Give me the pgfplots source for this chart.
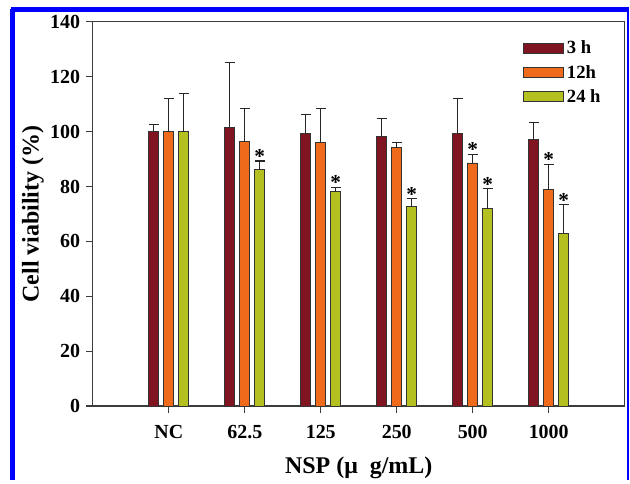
\documentclass[border=0pt]{standalone}
\usepackage{fontspec}
\setmainfont{Liberation Serif}
\usepackage{pgfplots}
\pgfplotsset{compat=1.18}

\definecolor{cRed}{RGB}{128,20,32}
\definecolor{cOrange}{RGB}{240,106,28}
\definecolor{cGreen}{RGB}{180,192,32}
\definecolor{cFrame}{RGB}{0,0,255}
\definecolor{cAxis}{RGB}{60,60,60}

% 1 px of the reference = 0.75pt
\pgfplotsset{
  barstyle/.style={draw=black!80, line width=0.6pt,
    error bars/y dir=plus, error bars/y explicit,
    error bars/error bar style={line width=0.8pt, black!85},
    error bars/error mark options={rotate=90, mark size=3.75pt, line width=0.8pt, black!85}},
  starstyle/.style={draw=none, fill=none, forget plot,
    nodes near coords={\bfseries *},
    every node near coord/.append style={font=\fontsize{16}{16}\selectfont, anchor=south, yshift=-5.5pt}},
}

\begin{document}
\begin{tikzpicture}
\begin{axis}[
    ybar, bar width=7.5pt,
    scale only axis,
    width=399.75pt, height=288.75pt,
    xmin=-1, xmax=6,
    ymin=0, ymax=140,
    ytick={0,20,...,140},
    xtick={0,1,2,3,4,5},
    xticklabels={NC,62.5,125,250,500,1000},
    tick align=outside,
    tick pos=left,
    major tick length=5pt,
    axis line style={cAxis, line width=0.9pt},
    tick style={cAxis, line width=0.9pt},
    /pgf/number format/assume math mode=true,
    ticklabel style={font=\bfseries\fontsize{15}{15}\selectfont},
    xticklabel style={yshift=-6pt},
    yticklabel style={xshift=-1pt},
    ylabel={Cell viability (\%)},
    xlabel={NSP (μ\ \ g/mL)},
    label style={font=\bfseries\fontsize{18}{19}\selectfont},
    ylabel style={yshift=-2pt},
    xlabel style={yshift=-6.5pt},
    legend style={draw=none, fill=none, at={(rel axis cs:0.8,0.965)}, anchor=north west,
      font=\bfseries\fontsize{14}{14}\selectfont, row sep=3pt,
      /tikz/every even column/.append style={column sep=8pt}},
    legend cell align=left,
    legend image code/.code={\draw[#1] (0pt,-3.75pt) rectangle (30.75pt,3.75pt);},
    clip=false,
]
\addplot[barstyle, bar shift=-11.25pt, fill=cRed] coordinates {
  (0,100.2) +- (0,2.3) (1,101.6) +- (0,23.6) (2,99.4) +- (0,6.8)
  (3,98.3) +- (0,6.5) (4,99.4) +- (0,12.6) (5,97.3) +- (0,6.0)
};
\addplot[barstyle, bar shift=0pt, fill=cOrange] coordinates {
  (0,100.0) +- (0,12.0) (1,96.4) +- (0,12.1) (2,96.2) +- (0,12.2)
  (3,94.2) +- (0,2.0) (4,88.6) +- (0,3.2) (5,78.8) +- (0,9.3)
};
\addplot[barstyle, bar shift=11.25pt, fill=cGreen] coordinates {
  (0,100.0) +- (0,14.0) (1,86.1) +- (0,3.2) (2,78.1) +- (0,1.7)
  (3,72.6) +- (0,3.0) (4,71.9) +- (0,7.3) (5,63.0) +- (0,10.3)
};
\legend{3 h,12h,24 h}
% significance marks, at the top of the error bars
\addplot[starstyle, bar shift=0pt] coordinates {(4,91.8) (5,88.1)};
\addplot[starstyle, bar shift=11.25pt] coordinates {
  (1,89.3) (2,79.8) (3,75.6) (4,79.2) (5,73.3)
};
% blue frame of the figure
\draw[cFrame, line width=3.5pt] (rel axis cs:-0.151,-0.192) -- (rel axis cs:-0.151,1.0325);
\draw[cFrame, line width=3.5pt] (rel axis cs:-0.1545,1.0325) -- (rel axis cs:1.0056,1.0325);
\draw[cFrame, line width=1.5pt] (rel axis cs:1.0056,1.04) -- (rel axis cs:1.0056,-0.192);
\path (rel axis cs:-0.1745,-0.192) rectangle (rel axis cs:1.0075,1.057);
\end{axis}
\end{tikzpicture}
\end{document}
